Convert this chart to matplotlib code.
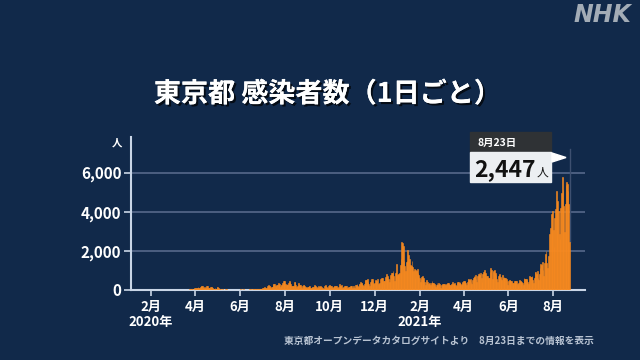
import matplotlib
matplotlib.use("Agg")
import matplotlib.pyplot as plt
import matplotlib.patheffects as pe
from matplotlib.patches import Rectangle, Polygon
import pandas as pd

plt.rcParams['font.family'] = ['Noto Sans CJK JP', 'DejaVu Sans']

# 東京都 新規感染者数（日別, 画像から読み取り）
m2020_01 = [1, 0, 0, 0, 0, 0, 1, 0]  # 1/24〜
m2020_02 = [0, 0, 0, 0, 0, 0, 0, 0, 0, 0, 0, 0, 1, 2, 3, 1, 2, 1, 3, 1,
            2, 1, 2, 1, 3, 2, 3, 1, 2]
m2020_03 = [1, 1, 2, 3, 3, 5, 6, 3, 2, 1, 6, 3, 2, 1, 2, 3, 6, 8, 10, 11,
            7, 16, 16, 17, 41, 47, 40, 63, 68, 13, 78]
m2020_04 = [66, 97, 89, 116, 143, 83, 79, 144, 181, 189, 197, 166, 91, 161, 127,
            149, 201, 181, 107, 102, 123, 132, 134, 161, 103, 72, 39, 112, 47, 46]
m2020_05 = [165, 160, 91, 57, 58, 38, 23, 39, 36, 22, 15, 28, 10, 30, 9, 14,
            5, 10, 10, 5, 11, 3, 2, 14, 8, 10, 11, 15, 22, 14, 5]
m2020_06 = [13, 34, 12, 28, 20, 26, 14, 13, 12, 18, 22, 25, 24, 47, 48, 27,
            16, 41, 35, 39, 35, 29, 31, 55, 48, 54, 57, 60, 58, 54]
m2020_07 = [67, 107, 124, 131, 111, 102, 106, 75, 224, 243, 206, 206, 119, 143,
            165, 286, 293, 290, 188, 168, 237, 238, 366, 260, 295, 131, 266,
            250, 367, 463, 463]
m2020_08 = [472, 292, 258, 309, 263, 360, 462, 429, 331, 197, 188, 222, 206,
            389, 385, 260, 161, 207, 186, 339, 258, 256, 212, 95, 182, 236,
            250, 226, 148, 148, 100]
m2020_09 = [170, 141, 211, 181, 124, 80, 148, 170, 149, 276, 187, 181, 146, 77,
            163, 191, 170, 220, 217, 171, 88, 98, 59, 195, 270, 218, 138, 78,
            194, 196]
m2020_10 = [235, 196, 207, 143, 78, 170, 180, 189, 214, 204, 145, 79, 166, 284,
            184, 185, 235, 124, 78, 139, 185, 186, 186, 215, 124, 102, 158,
            171, 221, 215, 203]
m2020_11 = [87, 209, 100, 122, 270, 242, 294, 189, 160, 293, 317, 393, 374, 352,
            255, 180, 298, 493, 534, 522, 539, 391, 314, 186, 401, 481, 570,
            561, 418, 311]
m2020_12 = [372, 500, 533, 449, 584, 327, 299, 352, 572, 602, 595, 621, 480, 305,
            460, 678, 822, 664, 736, 556, 392, 563, 748, 888, 884, 949, 708,
            481, 856, 944, 1337]
m2021_01 = [783, 814, 816, 884, 1278, 1591, 2447, 2392, 2268, 1494, 1219, 970,
            1433, 1502, 2044, 1809, 1592, 1204, 1274, 1240, 1471, 1175, 986,
            1056, 618, 1026, 973, 1064, 868, 769, 633]
m2021_02 = [393, 556, 676, 734, 577, 639, 429, 276, 412, 491, 434, 307, 369, 371,
            266, 378, 445, 353, 353, 327, 272, 178, 275, 340, 270, 337, 329, 232]
m2021_03 = [121, 232, 316, 279, 301, 293, 237, 116, 290, 340, 335, 304, 239, 247,
            175, 300, 409, 323, 303, 342, 256, 187, 337, 394, 394, 376, 430,
            313, 234, 364, 414]
m2021_04 = [475, 446, 440, 355, 249, 399, 555, 545, 537, 570, 421, 306, 510, 591,
            729, 667, 759, 543, 405, 711, 843, 861, 759, 876, 635, 425, 828,
            925, 1027, 698]
m2021_05 = [879, 708, 708, 609, 621, 591, 907, 1121, 1032, 573, 925, 969, 1010,
            854, 772, 542, 419, 732, 766, 843, 689, 621, 535, 743, 618, 684,
            629, 614, 539, 449, 260]
m2021_06 = [471, 487, 508, 472, 436, 351, 235, 369, 440, 439, 436, 467, 304, 209,
            337, 501, 452, 453, 388, 376, 236, 619, 570, 562, 562, 534, 386,
            317, 476, 714]
m2021_07 = [673, 660, 716, 518, 342, 593, 920, 896, 822, 950, 614, 502, 830,
            1149, 1308, 1271, 1410, 1008, 727, 1387, 1832, 1979, 1359, 1128,
            1763, 1429, 2848, 3177, 3865, 3300, 4058]
m2021_08 = [3058, 2195, 3709, 4166, 5042, 4515, 4566, 4066, 2884, 2612, 4200,
            4989, 5773, 5094, 4295, 2962, 4377, 5386, 5534, 5405, 5074, 4392,
            2447]

month_starts = ["2020-01-24", "2020-02-01", "2020-03-01", "2020-04-01",
                "2020-05-01", "2020-06-01", "2020-07-01", "2020-08-01",
                "2020-09-01", "2020-10-01", "2020-11-01", "2020-12-01",
                "2021-01-01", "2021-02-01", "2021-03-01", "2021-04-01",
                "2021-05-01", "2021-06-01", "2021-07-01", "2021-08-01"]
month_values = [m2020_01, m2020_02, m2020_03, m2020_04, m2020_05, m2020_06,
                m2020_07, m2020_08, m2020_09, m2020_10, m2020_11, m2020_12,
                m2021_01, m2021_02, m2021_03, m2021_04, m2021_05, m2021_06,
                m2021_07, m2021_08]

tick_dates = ["2020-02-01", "2020-04-01", "2020-06-01", "2020-08-01",
              "2020-10-01", "2020-12-01", "2021-02-01", "2021-04-01",
              "2021-06-01", "2021-08-01"]
tick_labels = ["2月\n2020年", "4月", "6月", "8月", "10月", "12月",
               "2月\n2021年", "4月", "6月", "8月"]
y_ticks = [0, 2000, 4000, 6000]
y_labels = ["0", "2,000", "4,000", "6,000"]

last_label = "8月23日"
last_value_text = "2,447"

frames = []
for start, vals in zip(month_starts, month_values):
    d = pd.date_range(start, periods=len(vals), freq="D")
    frames.append(pd.DataFrame({"date": d, "cases": vals}))
df = pd.concat(frames, ignore_index=True)

bg = "#11294a"
orange = "#f98a1f"
axis_col = "#c9d5e6"
W, H = 640, 360

fig = plt.figure(figsize=(6.4, 3.6), dpi=100, facecolor=bg)
ax = fig.add_axes([131 / W, 70 / H, (585 - 131) / W, (290 - 137) / H])
ax.set_facecolor(bg)

ax.bar(df["date"], df["cases"], width=1.0, color=orange,
       edgecolor=orange, linewidth=0.4, zorder=3)

ax.set_xlim(pd.Timestamp("2020-01-05"), pd.Timestamp("2021-09-13"))
ax.set_ylim(0, 7830)

for y in y_ticks[1:]:
    ax.axhline(y, color="#56688a", linewidth=1.2, zorder=1)

last = df.iloc[-1]
ax.axvline(last["date"], ymin=last["cases"] / 7830, ymax=0.92,
           color="#3e5070", linewidth=1, zorder=2)

for s in ["top", "right"]:
    ax.spines[s].set_visible(False)
for s in ["left", "bottom"]:
    ax.spines[s].set_color(axis_col)
    ax.spines[s].set_linewidth(1.5)

ax.set_yticks(y_ticks)
ax.set_yticklabels(y_labels)
ax.set_xticks(pd.to_datetime(tick_dates))
ax.set_xticklabels(tick_labels, linespacing=1.15)
ax.tick_params(axis="y", colors=axis_col, length=5, width=1.2, pad=2,
               labelcolor="white", labelsize=11)
ax.tick_params(axis="x", colors=axis_col, length=4, width=1.2, pad=3,
               labelcolor="white", labelsize=9.5)
for lab in ax.get_xticklabels() + ax.get_yticklabels():
    lab.set_fontweight("bold")
for lab in ax.get_xticklabels():
    lab.set_verticalalignment("top")

fig.text(117 / W, 1 - 143 / H, "人", color="white", fontsize=7.5,
         fontweight="bold", ha="center", va="center")

# title
fig.text(0.512, 1 - 94 / H, "東京都 感染者数（1日ごと）", color="white",
         fontsize=19.5, fontweight="bold", ha="center", va="center",
         path_effects=[pe.withSimplePatchShadow(offset=(1.5, -1.5),
                                                shadow_rgbFace="black",
                                                alpha=0.7),
                       pe.Normal()])

# NHK logo
fig.text(631 / W, 1 - 15 / H, "NHK", color="#a3acb6", fontsize=17,
         fontweight="bold", style="italic", ha="right", va="center",
         family="DejaVu Sans")

# source
fig.text(594 / W, 1 - 341 / H,
         "東京都オープンデータカタログサイトより　8月23日までの情報を表示",
         color="#b9c4d3", fontsize=7, fontweight="bold", ha="right",
         va="center")

# callout for last value
def px(x, y):
    return x / W, 1 - y / H

fig.patches.append(Rectangle(px(470, 152), 81 / W, 20 / H,
                             transform=fig.transFigure, color="#2f3235",
                             zorder=5))
fig.patches.append(Rectangle(px(470, 182), 81 / W, 30 / H,
                             transform=fig.transFigure, color="#eceff2",
                             zorder=5))
fig.patches.append(Polygon([px(552, 153), px(552, 162), px(566, 157.5)],
                           closed=True, transform=fig.transFigure,
                           color="white", zorder=5))
fig.text(*px(477, 143), last_label, color="white", fontsize=7.5,
         fontweight="bold", ha="left", va="center", zorder=6)
fig.text(*px(474, 176), last_value_text, color="#111111", fontsize=16.5,
         fontweight="bold", ha="left", va="baseline", zorder=6)
fig.text(*px(537, 176), "人", color="#111111", fontsize=8.5,
         ha="left", va="baseline", zorder=6)

fig.savefig("out.png", dpi=100, facecolor=bg)
